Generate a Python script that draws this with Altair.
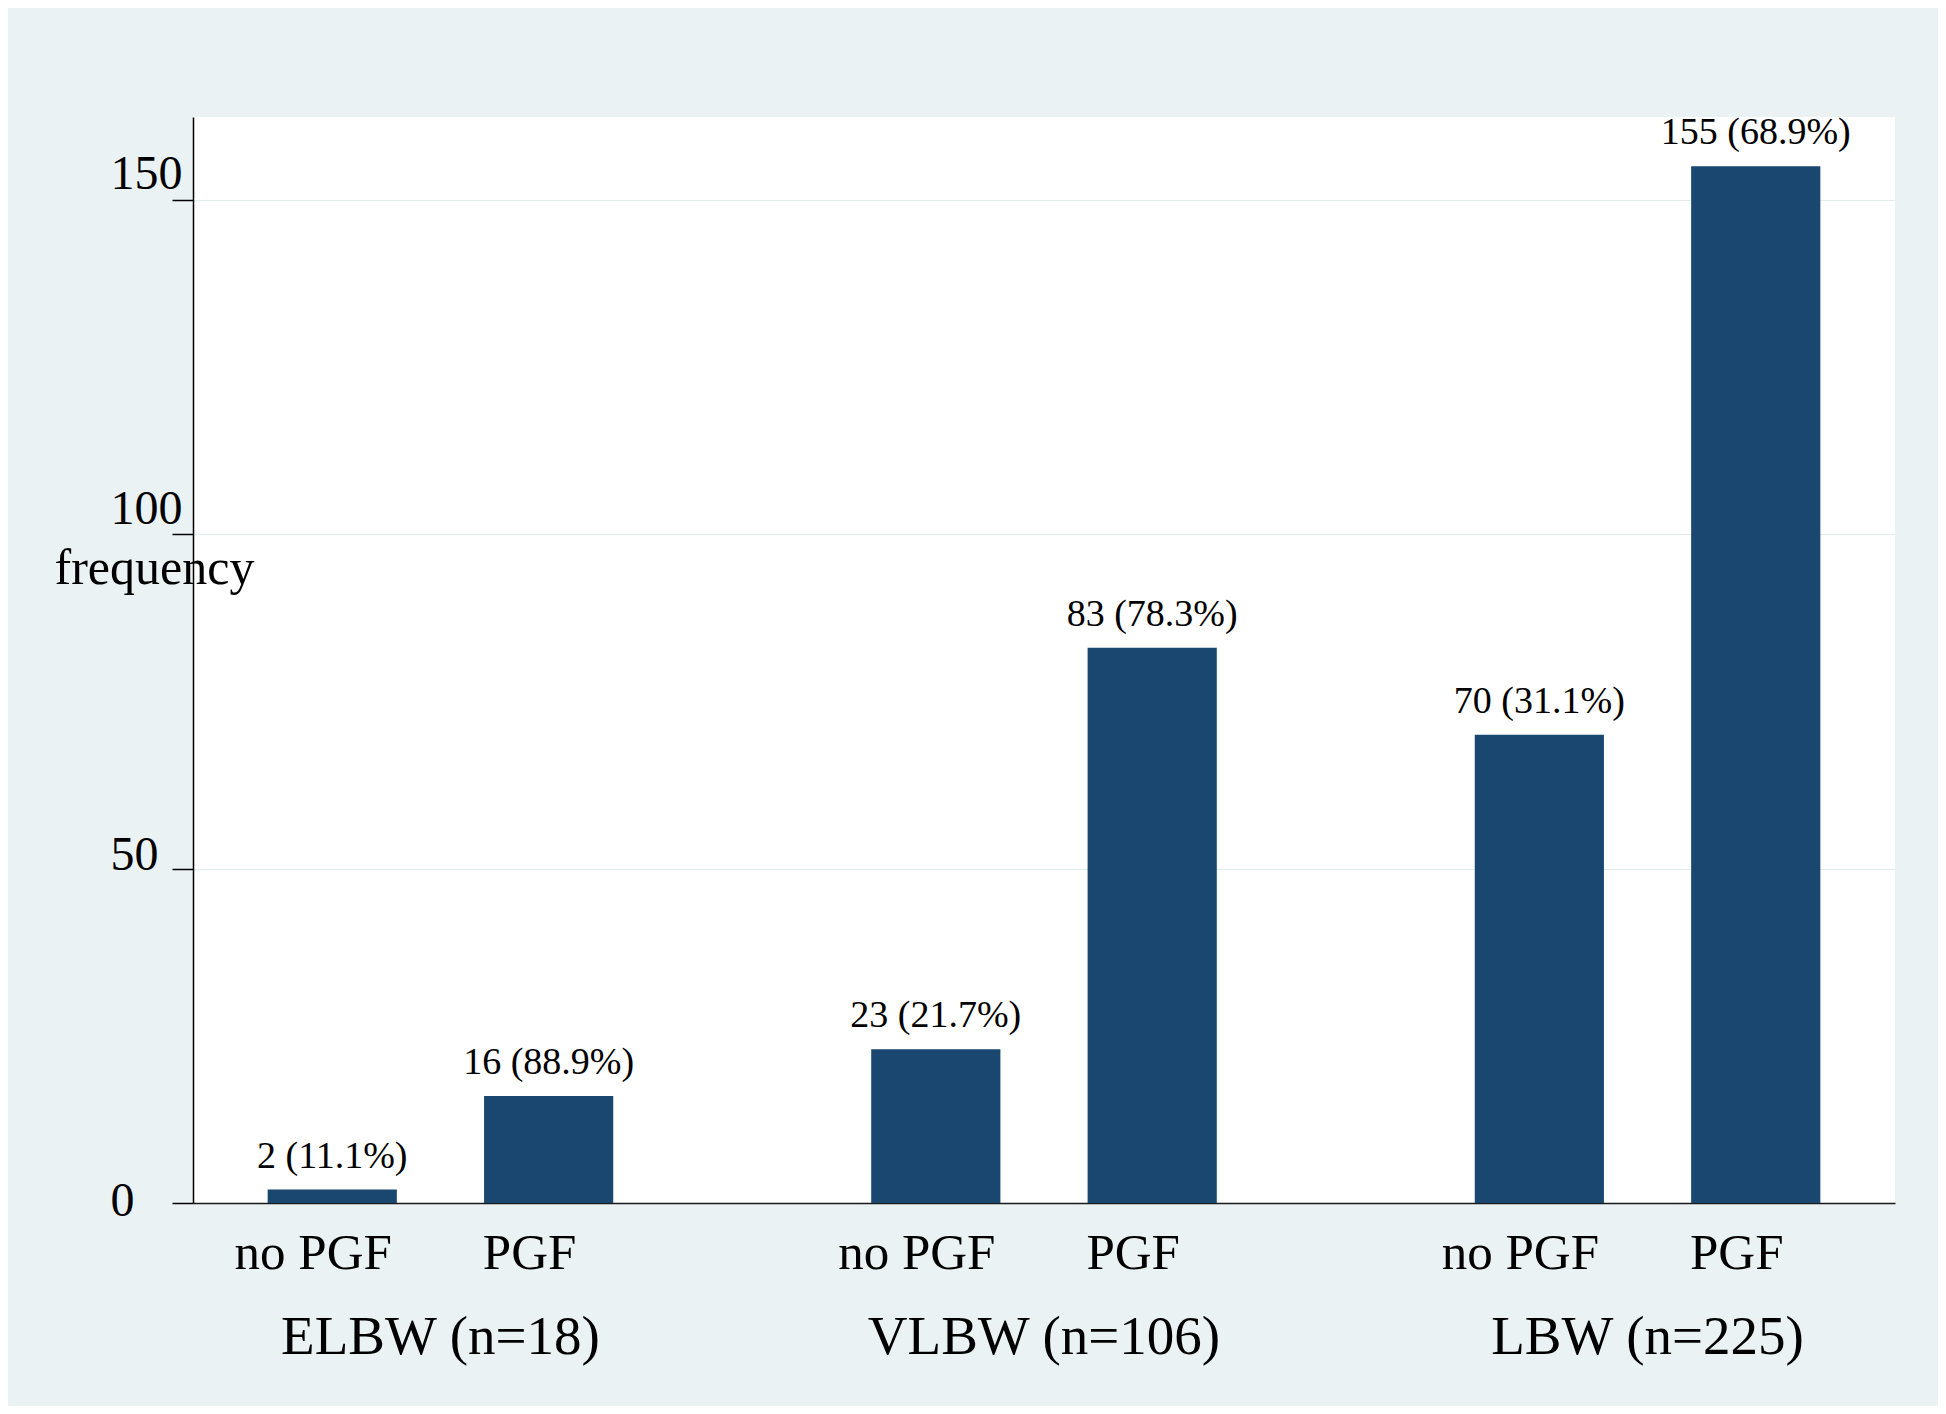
import altair as alt
import pandas as pd

group_names = ["ELBW", "VLBW", "LBW"]
group_n = [18, 106, 225]
categories = ["no PGF", "PGF"]
counts = [2, 16, 23, 83, 70, 155]
percents = [11.1, 88.9, 21.7, 78.3, 31.1, 68.9]
y_ticks = [0, 50, 100, 150]

groups = [f"{g} (n={n})" for g, n in zip(group_names, group_n)]
rows = []
for i, g in enumerate(groups):
    for j, c in enumerate(categories):
        k = i * 2 + j
        rows.append({
            "group": g,
            "cat": c,
            "count": counts[k],
            "label": f"{counts[k]} ({percents[k]}%)",
        })
df = pd.DataFrame(rows)

FONT = "Liberation Serif"
NAVY = "#1a476f"
BG = "#eaf2f3"

x_enc = alt.X(
    "group:N",
    sort=groups,
    scale=alt.Scale(paddingInner=0.18, paddingOuter=0),
    axis=alt.Axis(
        title=None,
        labelAngle=0,
        labelFont=FONT,
        labelFontSize=55,
        labelColor="black",
        labelPadding=150,
        labelBaseline="alphabetic",
        labelLimit=1000,
        ticks=False,
        domainColor="#1a1a1a",
        domainWidth=1.5,
        grid=False,
    ),
)
xoff_enc = alt.XOffset(
    "cat:N",
    sort=categories,
    scale=alt.Scale(paddingInner=0.403, paddingOuter=0.345),
)
y_enc = alt.Y(
    "count:Q",
    scale=alt.Scale(domain=[0, 162.35], nice=False, zero=True),
    axis=alt.Axis(
        values=y_ticks,
        title="frequency",
        titleAngle=0,
        titleX=-39,
        titleY=466,
        titleAlign="center",
        titleBaseline="alphabetic",
        titleFont=FONT,
        titleFontSize=50,
        titleFontWeight="normal",
        titleColor="black",
        labelFont=FONT,
        labelFontSize=48,
        labelColor="black",
        labelAlign="left",
        labelBaseline="alphabetic",
        labelPadding=62,
        labelOffset={
            "condition": [
                {"test": "datum.value >= 100", "value": -11},
                {"test": "datum.value == 50", "value": 1},
            ],
            "value": 12,
        },
        tickSize=21,
        tickColor="black",
        tickWidth=1.5,
        domainColor="black",
        domainWidth=1.5,
        grid=True,
        gridColor="#e1ecec",
        gridWidth=1,
    ),
)

bars = alt.Chart(df).mark_bar(color=NAVY).encode(
    x=x_enc, xOffset=xoff_enc, y=y_enc
)

bar_labels = alt.Chart(df).mark_text(
    font=FONT, fontSize=38, color="black", baseline="alphabetic", dy=-22
).encode(
    x=alt.X("group:N", sort=groups),
    xOffset=alt.XOffset("cat:N", sort=categories),
    y="count:Q",
    text="label:N",
)

sub_labels = alt.Chart(df).mark_text(
    font=FONT, fontSize=51, color="black", baseline="alphabetic", dy=66, dx=-19
).encode(
    x=alt.X("group:N", sort=groups),
    xOffset=alt.XOffset("cat:N", sort=categories),
    y=alt.datum(0),
    text="cat:N",
)

chart = (
    alt.layer(bars, bar_labels, sub_labels)
    .properties(
        width=1702,
        height=1086,
        background=BG,
        autosize=alt.AutoSizeParams(type="none"),
        padding={"left": 185, "top": 109, "right": 43, "bottom": 203},
    )
    .configure_view(stroke=None, fill="white")
)

chart.save("out.html", embed_options={"renderer": "svg", "actions": False})
